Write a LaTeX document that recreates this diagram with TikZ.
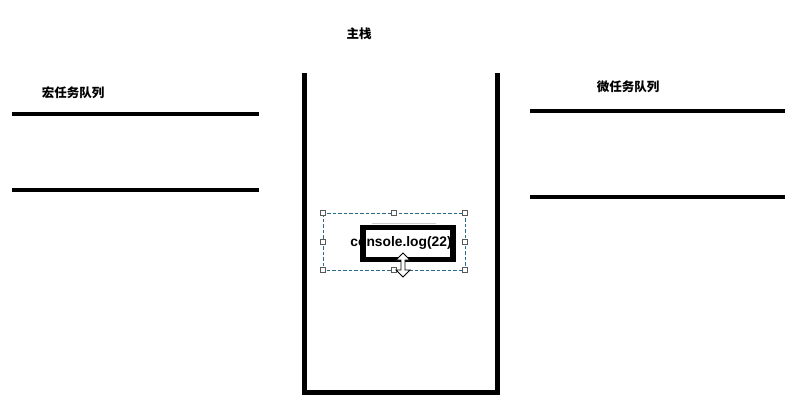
\documentclass[tikz,border=0pt]{standalone}
\usepackage{fontspec}
\newfontfamily\cjk{Noto Sans CJK SC}
\newfontfamily\latin{Liberation Sans}
\definecolor{selblue}{HTML}{2A6A8A}

\begin{document}
\begin{tikzpicture}[x=1pt,y=-1pt,
	wall/.style={line width=5pt},
	queue/.style={line width=4pt},
	title/.style={font=\cjk\bfseries\fontsize{12.5}{14}\selectfont},
	handle/.style={draw=gray!70!black,fill=white,line width=0.6pt,minimum size=5pt,inner sep=0pt}]
	\useasboundingbox (0,0) rectangle (795,410);
	% main stack
	\node[title] (zhu) at (359,34) {主栈};
	\draw[wall] (304,73) -- (304,392) -- (497,392) -- (497,73);
	% macro task queue
	\node[title] (hong) at (73,93) {宏任务队列};
	\draw[queue] (12,114) -- (259,114);
	\draw[queue] (12,190) -- (259,190);
	% micro task queue
	\node[title] (wei) at (628,87) {微任务队列};
	\draw[queue] (530,111) -- (785,111);
	\draw[queue] (530,197) -- (785,197);
	% selected task
	\draw[selblue,line width=1pt,dash pattern=on 3.5pt off 2pt] (323,213) rectangle (465,270);
	\draw[gray!40,line width=1pt] (372,223) -- (436,223);
	\node[draw,line width=5.5pt,minimum width=90pt,minimum height=32pt,inner sep=0pt] (task) at (408,243.5) {};
	\node[font=\latin\bfseries\fontsize{13.8}{16}\selectfont,inner sep=0pt] (log) at (401,243) {console.log(22)};
	\foreach \x/\y [count=\i] in {323/213,394/213,465/213,323/241.5,465/241.5,323/270,394/270,465/270}
		\node[handle] (h\i) at (\x,\y) {};
	% resize cursor
	\draw[fill=white,line width=0.8pt] (403,253) -- (410,260) -- (405,260) -- (405,270) -- (410,270)
		-- (403,277) -- (396,270) -- (401,270) -- (401,260) -- (396,260) -- cycle;
\end{tikzpicture}
\end{document}
